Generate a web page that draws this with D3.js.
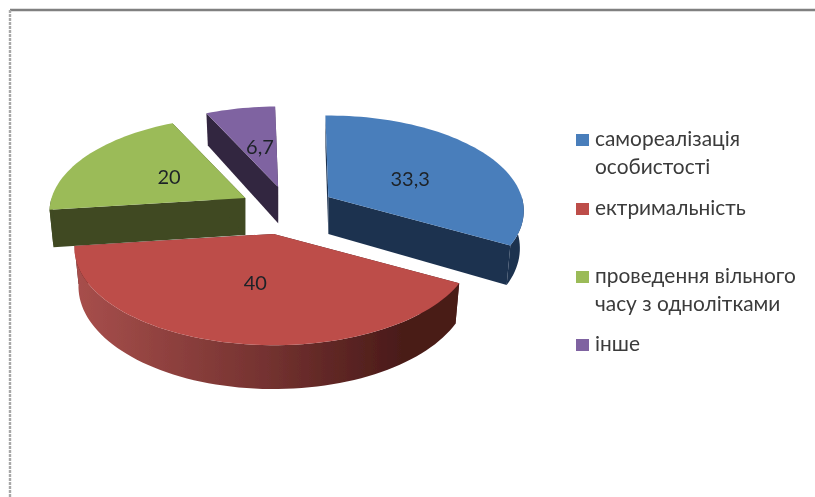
<!DOCTYPE html>
<html>
<head>
<meta charset="utf-8">
<script src="https://cdn.jsdelivr.net/npm/d3@7"></script>
<style>
	html, body { margin: 0; padding: 0; background: #fff; }
	svg { display: block; }
	text { font-family: Lato, "Open Sans", sans-serif; }
</style>
</head>
<body>
<svg id="chart" width="815" height="497"></svg>
<script>
const categories = [
	['самореалізація', 'особистості'],
	['ектримальність'],
	['проведення вільного', 'часу з однолітками'],
	['інше'],
];
const values = [33.3, 40, 20, 6.7];
const valueLabels = ['33,3', '40', '20', '6,7'];

const topColors = ['#4a7ebb', '#bd4d4a', '#9bbb59', '#7f63a1'];
const sideColors = ['#1c3250', '#4a1b19', '#3f4a22', '#33263f'];
const explodeX = [0.245, 0.36, 0.242, 0.2];
const explodeY = [0.245, 0.27, 0.242, 0.24];
const labelPullX = [0.53, 0.42, 0.48, 0.48];
const labelPullY = [0.43, 0.44, 0.53, 0.52];
const legendRowY = [146, 215, 283, 351];

const WIDTH = 815, HEIGHT = 497;
const CX = 287, CY = 209;
const RX = 197, RY = 95;
const PERSPECTIVE = 0.146;
const DEPTH = 37.5;
const BOTTOM_SHRINK = 0.98;
const rad = d => d * Math.PI / 180;

const svg = d3.select('#chart');

const defs = svg.append('defs');
const redSide = defs.append('linearGradient').attr('id', 'red-side');
redSide.append('stop').attr('offset', '0%').attr('stop-color', '#a84f4c');
redSide.append('stop').attr('offset', '50%').attr('stop-color', '#743230');
redSide.append('stop').attr('offset', '85%').attr('stop-color', '#4a1b19');
redSide.append('stop').attr('offset', '100%').attr('stop-color', '#4a1b19');

// the source is a soft scan, so everything gets a small blur
defs.append('filter')
	.attr('id', 'soft')
	.attr('filterUnits', 'userSpaceOnUse')
	.attr('x', 0).attr('y', 0)
	.attr('width', WIDTH).attr('height', HEIGHT)
	.append('feGaussianBlur')
	.attr('stdDeviation', 0.6);

const root = svg.append('g').attr('filter', 'url(#soft)');
root.append('rect').attr('width', WIDTH).attr('height', HEIGHT).attr('fill', '#fff');

// disc point -> screen, the back of the disc is squeezed by the perspective
// z0 is how far the exploded slice was pushed back
const project = (a, r, level, z0) => {
	const s = 1 / (1 + PERSPECTIVE * (Math.cos(a) * r + z0));
	const k = level ? BOTTOM_SHRINK : 1;
	return [
		RX * r * Math.sin(a) * s * k,
		-RY * r * Math.cos(a) * s + (level ? DEPTH * s : 0),
	];
};
const line = d3.line();

const pie = d3.pie().sort(null).value(d => d)
	.startAngle(rad(-1)).endAngle(rad(359));
const slices = pie(values).map((d, i) => {
	const mid = (d.startAngle + d.endAngle) / 2;
	return {
		...d, i, mid,
		z0: explodeY[i] * Math.max(0, Math.cos(mid)),
		apex: [CX + explodeX[i] * RX * Math.sin(mid), CY - explodeY[i] * 94 * Math.cos(mid)],
	};
});

const rimAngles = (a0, a1) => {
	const n = Math.max(2, Math.ceil((a1 - a0) / rad(2)));
	return d3.range(n + 1).map(j => a0 + (a1 - a0) * j / n);
};

// back to front: purple, green, blue, red
const order = [3, 2, 0, 1];
const pies = root.append('g').attr('class', 'pie');

order.forEach(i => {
	const d = slices[i];
	const pt = (a, r, level) => project(a, r, level, d.z0);
	const g = pies.append('g')
		.attr('class', 'slice')
		.attr('transform', 'translate(' + d.apex + ')');

	[d.startAngle, d.endAngle].forEach(a => {
		g.append('path')
			.attr('fill', sideColors[i])
			.attr('d', line([pt(a, 0, 0), pt(a, 1, 0), pt(a, 1, 1), pt(a, 0, 1)]) + 'Z');
	});

	const from = Math.max(d.startAngle, rad(90));
	const to = Math.min(d.endAngle, rad(270));
	if (to > from) {
		const angles = rimAngles(from, to);
		g.append('path')
			.attr('fill', i === 1 ? 'url(#red-side)' : sideColors[i])
			.attr('d', line([
				...angles.map(a => pt(a, 1, 0)),
				...angles.slice().reverse().map(a => pt(a, 1, 1)),
			]) + 'Z');
	}

	g.append('path')
		.attr('fill', topColors[i])
		.attr('d', line([pt(0, 0, 0), ...rimAngles(d.startAngle, d.endAngle).map(a => pt(a, 1, 0))]) + 'Z');
});

slices.forEach(d => {
	const p = project(d.mid, 1, 0, d.z0);
	root.append('text')
		.attr('x', d.apex[0] + p[0] * labelPullX[d.i])
		.attr('y', d.apex[1] + p[1] * labelPullY[d.i])
		.attr('text-anchor', 'middle')
		.attr('dominant-baseline', 'central')
		.attr('font-size', 20)
		.attr('fill', '#1e2328')
		.text(valueLabels[d.i]);
});

const legend = root.append('g').attr('class', 'legend');
categories.forEach((lines, i) => {
	legend.append('rect')
		.attr('x', 576)
		.attr('y', legendRowY[i] - 12)
		.attr('width', 13)
		.attr('height', 12)
		.attr('fill', topColors[i]);
	lines.forEach((t, j) => {
		legend.append('text')
			.attr('x', 595)
			.attr('y', legendRowY[i] + j * 27.5)
			.attr('font-size', 20.9)
			.attr('fill', '#3a3a3a')
			.text(t);
	});
});

// frame of the pasted picture
root.append('line')
	.attr('x1', 10).attr('x2', WIDTH)
	.attr('y1', 10).attr('y2', 10)
	.attr('stroke', '#808080').attr('stroke-width', 2.4);
root.append('line')
	.attr('x1', 10).attr('x2', 10)
	.attr('y1', 10).attr('y2', HEIGHT)
	.attr('stroke', '#a8a8a8').attr('stroke-width', 2.4)
	.attr('stroke-dasharray', '3 1');
</script>
</body>
</html>
